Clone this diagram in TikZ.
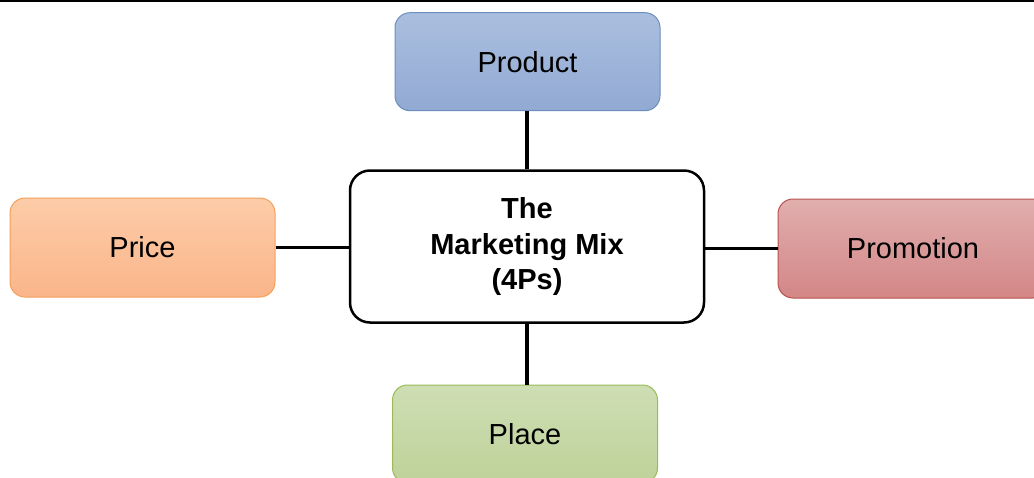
\documentclass[tikz,border=0pt]{standalone}
\usepackage{fontspec}
\setmainfont{Liberation Sans}
\definecolor{prodtop}{HTML}{AABFDF}
\definecolor{prodbot}{HTML}{92A9D3}
\definecolor{prodline}{HTML}{6C8EBF}
\definecolor{pricetop}{HTML}{FDCCA9}
\definecolor{pricebot}{HTML}{FAB589}
\definecolor{priceline}{HTML}{F5A05A}
\definecolor{promotop}{HTML}{E1AEAE}
\definecolor{promobot}{HTML}{D38686}
\definecolor{promoline}{HTML}{B85450}
\definecolor{placetop}{HTML}{CEDEB4}
\definecolor{placebot}{HTML}{BED299}
\definecolor{placeline}{HTML}{9BBB59}
\begin{document}
\begin{tikzpicture}[x=1pt,y=-1pt,
  pbox/.style={rounded corners=15pt, line width=1pt, minimum width=265pt,
    minimum height=98pt, inner sep=0pt, font=\fontsize{29}{34}\selectfont},
  hub/.style={rounded corners=20pt, draw=black, line width=2.5pt, fill=white,
    minimum width=354pt, minimum height=152pt, align=center,
    font=\fontsize{29}{35.5}\selectfont\bfseries},
  link/.style={line width=3.2pt, black}]
\useasboundingbox (0,0) rectangle (1034,477);
\clip (0,0) rectangle (1034,477);
\fill[white] (0,0) rectangle (1034,477);
\draw[line width=2pt] (0,0.5) -- (1034,0.5);
\node[pbox, draw=prodline, top color=prodtop, bottom color=prodbot] (product) at (527.5,61.7) {Product};
\node[pbox, draw=priceline, top color=pricetop, bottom color=pricebot, minimum height=99pt] (price) at (142.5,247.5) {Price};
\node[pbox, draw=promoline, top color=promotop, bottom color=promobot, minimum width=270pt, minimum height=99pt] (promo) at (913,248.5) {Promotion};
\node[pbox, draw=placeline, top color=placetop, bottom color=placebot] (place) at (525,434) {Place};
\node[hub] (mix) at (527,246.5) {The\\Marketing Mix\\(4Ps)};
\draw[link] (product.south -| mix.north) -- (mix.north);
\draw[link] (mix.south) -- (mix.south |- place.north);
\draw[link] (price.east) -- (price.east -| mix.west);
\draw[link] (mix.east |- promo.west) -- (promo.west);
\end{tikzpicture}
\end{document}
